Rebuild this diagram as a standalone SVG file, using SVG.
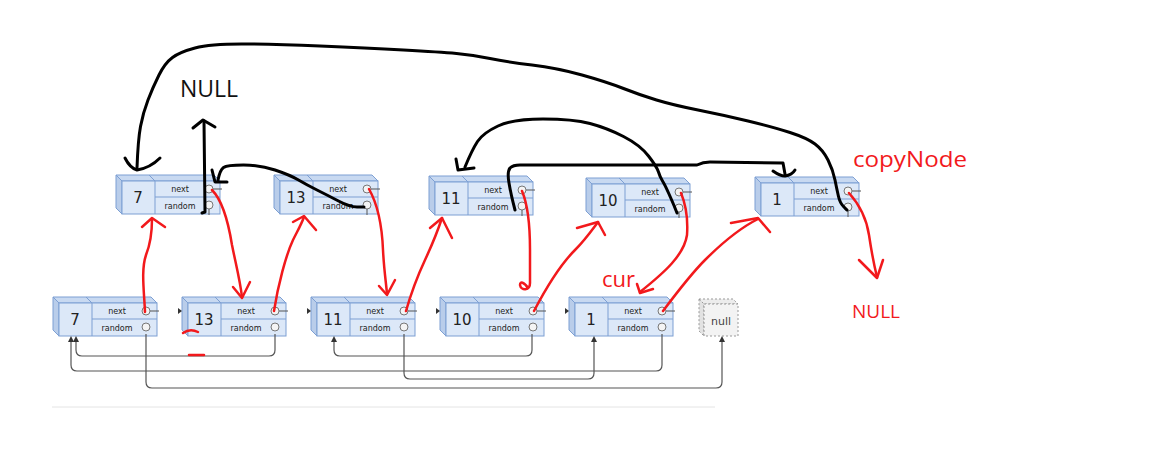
<svg xmlns="http://www.w3.org/2000/svg" xmlns:xlink="http://www.w3.org/1999/xlink" width="1150" height="451" viewBox="0 0 1150 451">
<style>
.face{stroke:#7d9fd3;stroke-width:1}
.front{fill:#dce8f8}
.top{fill:#c8d9f1}
.left{fill:#b9cdea}
.lbl{font-family:"DejaVu Sans",sans-serif;font-size:8px;fill:#222;text-anchor:middle}
.val{font-family:"DejaVu Sans",sans-serif;font-size:15px;fill:#222;text-anchor:middle}
.ptr{fill:#f4f4f4;stroke:#777;stroke-width:1}
.stub{stroke:#555;stroke-width:1;fill:none}
.gray{stroke:#555;stroke-width:1.2;fill:none}
.red{stroke:#f2191c;stroke-width:2.5;fill:none;stroke-linecap:round;stroke-linejoin:round}
.blk{stroke:#000;stroke-width:3;fill:none;stroke-linecap:round;stroke-linejoin:round}
.rtxt{font-family:"Open Sans",sans-serif;fill:#f2191c}
.btxt{font-family:"Open Sans",sans-serif;fill:#111}
</style>
<defs>
<g id="nodeBody">
<polygon class="face top" points="0,0 98,0 104,6 6,6"/>
<polygon class="face left" points="0,0 6,6 6,39 0,33"/>
<rect class="face front" x="6" y="6" width="98" height="33"/>
<line class="face" x1="33" y1="0" x2="39" y2="6"/>
<line class="face" x1="39" y1="6" x2="39" y2="39"/>
<line class="face" x1="39" y1="22" x2="104" y2="22"/>
<text class="lbl" x="64" y="17">next</text>
<text class="lbl" x="64" y="34">random</text>
<line class="stub" x1="97" y1="14" x2="106" y2="14"/>
<circle class="ptr" cx="93" cy="14" r="4"/>
<circle class="ptr" cx="93" cy="30" r="4"/>
</g>
<path id="gh" d="M-3,5 L0,-1 L3,5 z" fill="#333"/>
<path id="lt" d="M-4,11 L0,14 L-4,17z" fill="#333"/>
</defs>
<rect width="1150" height="451" fill="#fff"/>
<line x1="52" y1="407" x2="715" y2="407" stroke="#e4e4e4" stroke-width="1"/>

<!-- original list (bottom row) -->
<g id="orig7" transform="translate(53,297)"><use xlink:href="#nodeBody"/><text class="val" x="22" y="28">7</text></g>
<g id="orig13" transform="translate(182,297)"><use xlink:href="#nodeBody"/><text class="val" x="22" y="28">13</text><use xlink:href="#lt"/></g>
<g id="orig11" transform="translate(311,297)"><use xlink:href="#nodeBody"/><text class="val" x="22" y="28">11</text><use xlink:href="#lt"/></g>
<g id="orig10" transform="translate(440,297)"><use xlink:href="#nodeBody"/><text class="val" x="22" y="28">10</text><use xlink:href="#lt"/></g>
<g id="orig1" transform="translate(569,297)"><use xlink:href="#nodeBody"/><text class="val" x="22" y="28">1</text><use xlink:href="#lt"/></g>
<g id="nullNode" transform="translate(699,299)">
<polygon points="0,0 34,0 39,5 5,5" fill="#ececec" stroke="#999" stroke-width="1" stroke-dasharray="2,2"/>
<polygon points="0,0 5,5 5,37 0,32" fill="#e2e2e2" stroke="#999" stroke-width="1" stroke-dasharray="2,2"/>
<rect x="5" y="5" width="34" height="32" fill="#f3f3f3" stroke="#999" stroke-width="1" stroke-dasharray="2,2"/>
<text x="22" y="26" font-family="DejaVu Sans,sans-serif" font-size="11" fill="#444" text-anchor="middle">null</text>
</g>

<!-- copied list (top row) -->
<g id="copy7" transform="translate(116,175)"><use xlink:href="#nodeBody"/><text class="val" x="22" y="28">7</text><line class="stub" x1="93" y1="34" x2="93" y2="40"/></g>
<g id="copy13" transform="translate(274,175)"><use xlink:href="#nodeBody"/><text class="val" x="22" y="28">13</text><line class="stub" x1="93" y1="34" x2="93" y2="40"/></g>
<g id="copy11" transform="translate(429,176)"><use xlink:href="#nodeBody"/><text class="val" x="22" y="28">11</text><line class="stub" x1="93" y1="34" x2="93" y2="40"/></g>
<g id="copy10" transform="translate(586,178)"><use xlink:href="#nodeBody"/><text class="val" x="22" y="28">10</text><line class="stub" x1="93" y1="34" x2="93" y2="40"/></g>
<g id="copy1" transform="translate(755,177)"><use xlink:href="#nodeBody"/><text class="val" x="22" y="28">1</text><line class="stub" x1="93" y1="34" x2="93" y2="40"/></g>

<!-- connectors -->
<g id="connectors">
<!-- gray random pointers of original list -->
<path class="gray" d="M275,334 V350 Q275,356 269,356 H82 Q76,356 76,350 V341"/>
<use xlink:href="#gh" x="76" y="337"/>
<path class="gray" d="M662,334 V365 Q662,371 656,371 H77 Q71,371 71,365 V341"/>
<use xlink:href="#gh" x="71" y="337"/>
<path class="gray" d="M146,334 V382 Q146,388 152,388 H716 Q722,388 722,382 V341"/>
<use xlink:href="#gh" x="722" y="337"/>
<path class="gray" d="M404,334 V373 Q404,379 410,379 H588 Q594,379 594,373 V341"/>
<use xlink:href="#gh" x="594" y="337"/>
<path class="gray" d="M532,334 V350 Q532,356 526,356 H340 Q334,356 334,350 V341"/>
<use xlink:href="#gh" x="334" y="337"/>

<!-- red hand-drawn arrows -->
<path class="red" d="M145,312 C144,290 141,270 146,255 C150,245 152,235 152,219"/>
<path class="red" d="M142,227 L152,218 L165,227"/>
<path class="red" d="M212,190 C222,200 228,220 232,245 C236,265 240,280 242,297"/>
<path class="red" d="M233,287 L242,298 L250,282"/>
<path class="red" d="M274,311 C278,285 286,255 293,240 C298,230 301,225 304,217"/>
<path class="red" d="M293,222 L304,216 L316,230"/>
<path class="red" d="M369,189 C378,205 382,225 383,250 C384,270 386,282 387,294"/>
<path class="red" d="M379,286 L387,295 L395,280"/>
<path class="red" d="M406,311 C412,290 418,275 425,260 C432,245 438,230 442,218"/>
<path class="red" d="M430,228 L442,218 L452,238"/>
<path class="red" d="M522,191 C528,205 530,225 530,250 C530,265 530,276 530,283 C530,291 521,291 520,285 C520,281 524,282 528,288"/>
<path class="red" d="M534,311 C545,290 560,265 575,250 C585,240 592,230 598,222"/>
<path class="red" d="M577,228 L598,222 L605,235"/>
<path class="red" d="M681,193 C686,205 688,220 687,235 C684,255 665,272 640,292"/>
<path class="red" d="M637,284 L640,293 L653,289"/>
<path class="red" d="M663,311 C675,295 690,275 705,260 C725,240 740,228 758,219"/>
<path class="red" d="M731,223 L758,218 L770,232"/>
<path class="red" d="M849,193 C858,203 866,215 869,235 C872,255 874,265 877,277"/>
<path class="red" d="M859,260 L877,278 L883,260"/>
<path class="red" d="M183,333 Q190,328 198,332"/>
<path class="red" d="M189,355 L204,355"/>

<!-- black hand-drawn arrows -->
<path class="blk" d="M847,210 L843.5,206.5 Q840,203 838.5,196.5 Q837,190 835,180 Q833,170 828,160 Q823,150 815,144 Q807,138 790,132.5 Q773,127 748,121 Q723,115 698,110 Q673,105 656.5,100 Q640,95 623.5,88.5 Q607,82 582,75 Q557,68 532,65 Q507,62 490,58.5 Q473,55 456.5,53.5 Q440,52 403.5,50 Q367,48 320,46 Q273,44 241.5,44 Q210,44 195,48 Q180,52 172.5,57.5 Q165,63 159,75 Q153,87 148,100 Q143,113 140.5,126.5 Q138,140 137,168"/>
<path class="blk" d="M125,158 Q130,168 137,170 Q150,168 160,158"/>
<path class="blk" d="M677,213 L675,208 Q673,203 669,194 Q665,185 662.5,181 Q660,177 658.5,172 Q657,167 648.5,156 Q640,145 623.5,136.5 Q607,128 590,123.5 Q573,119 543,119 Q513,119 498,126 Q483,133 477.5,141.5 Q472,150 465,167"/>
<path class="blk" d="M456,159 L458,170 L474,168"/>
<path class="blk" d="M515,210 Q511,195 509,183 Q507,172 510,168 Q513,165 520,165 L697,165 Q703,162 710,162 L783,163 L785,174"/>
<path class="blk" d="M773,171 Q780,176 785,176 Q792,175 795,170"/>
<path class="blk" d="M364,207 L357,207 Q350,207 338.5,201 Q327,195 317,190 Q307,185 298.5,180 Q290,175 275,170 Q260,165 243.5,165 Q227,165 223.5,167.5 Q220,170 218,180"/>
<path class="blk" d="M212,170 L215,182 L227,182"/>
<path class="blk" d="M202,213 L205,212 L204,121"/>
<path class="blk" d="M193,128 L203,120 L215,127"/>
</g>

<!-- labels -->
<text class="btxt" x="180" y="97" font-size="23">NULL</text>
<text class="rtxt" x="853" y="167" font-size="22" textLength="114" lengthAdjust="spacingAndGlyphs">copyNode</text>
<text class="rtxt" x="602" y="287" font-size="22">cur</text>
<text class="rtxt" x="852" y="318" font-size="19">NULL</text>
</svg>
